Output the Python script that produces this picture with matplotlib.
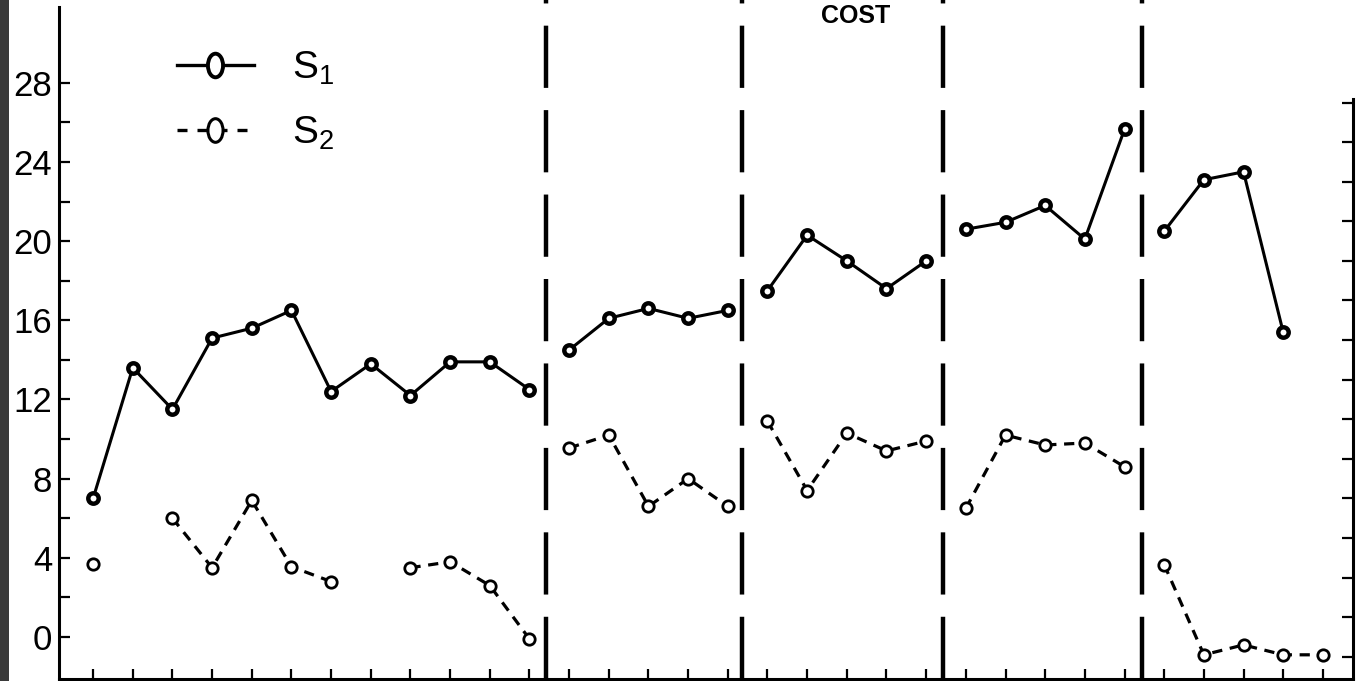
import numpy as np
import matplotlib
matplotlib.use('Agg')
import matplotlib.pyplot as plt
from matplotlib.lines import Line2D
from matplotlib.path import Path
from matplotlib.transforms import Affine2D
from matplotlib.patches import Rectangle

plt.rcParams['font.family'] = ['Liberation Sans', 'DejaVu Sans']

# position of each observation along the bottom axis
x = np.arange(1, 33)
# number of observations in each block (blocks are split by dashed lines)
blocks = [12, 5, 5, 5, 5]
breaks = [12.42, 17.36, 22.43, 27.44]

nan = np.nan
s1 = np.array([7.0, 13.6, 11.5, 15.1, 15.6, 16.5, 12.4, 13.8, 12.2, 13.9, 13.9, 12.5,
               14.5, 16.1, 16.6, 16.1, 16.5,
               17.5, 20.3, 19.0, 17.6, 19.0,
               20.6, 20.95, 21.8, 20.1, 25.65,
               20.5, 23.1, 23.5, 15.4, nan])
s2 = np.array([3.7, nan, 6.0, 3.5, 6.9, 3.55, 2.8, nan, 3.5, 3.8, 2.6, -0.1,
               9.55, 10.2, 6.6, 8.0, 6.6,
               10.9, 7.4, 10.3, 9.4, 9.9,
               6.5, 10.2, 9.7, 9.8, 8.6,
               3.66, -0.9, -0.4, -0.9, -0.9])

yticks = np.arange(0, 29, 2)
ylabels = [str(v) if v % 4 == 0 else '' for v in yticks]
right_ticks = np.arange(-1, 28, 2)

fig = plt.figure(figsize=(13.56, 6.81), dpi=100)
ax = fig.add_axes([0.0435, 0.003, 0.9543, 0.9868])
ax.set_xlim(0.14, 32.76)
ax.set_ylim(-2.12, 31.83)

# dark scan edge on the left
fig.patches.append(Rectangle((0, 0), 9 / 1356, 1, transform=fig.transFigure,
                             facecolor='#3a3a3a', edgecolor='none'))

start = 0
for n in blocks:
    seg = slice(start, start + n)
    ax.plot(x[seg], s1[seg], color='black', lw=2.2, marker='o', ms=7.5,
            mfc='white', mec='black', mew=3.2, zorder=3)
    ax.plot(x[seg], s2[seg], color='black', lw=2.3, dashes=(3.2, 2.4),
            marker='o', ms=8.2, mfc='white', mec='black', mew=2.0, zorder=3)
    start += n

for b in breaks:
    ax.axvline(b, ymin=0, ymax=1.02, color='black', lw=3.2, dashes=(14, 5),
               clip_on=False)

# legend with tall oval markers like the hand drawn key
oval = Path.unit_circle().transformed(Affine2D().scale(0.64, 1.0))
h1 = Line2D([], [], color='black', lw=2.4, marker=oval, ms=17, mfc='white',
            mec='black', mew=2.8)
h2 = Line2D([], [], color='black', lw=2.4, dashes=(3, 3), marker=oval, ms=17,
            mfc='white', mec='black', mew=2.2)
ax.legend([h1, h2], [r'$\mathregular{S_1}$', r'$\mathregular{S_2}$'],
          loc='upper left', bbox_to_anchor=(0.091, 0.937), frameon=False,
          fontsize=28, handlelength=1.98, handletextpad=0.98, labelspacing=0.72,
          borderpad=0, borderaxespad=0)

ax.spines['top'].set_visible(False)
for side in ['left', 'bottom', 'right']:
    ax.spines[side].set_linewidth(2.2)
ax.spines['right'].set_bounds(-2.12, 27.2)

ax.set_xticks(x)
ax.set_xticklabels([])
ax.tick_params(axis='x', direction='in', length=7, width=1.6)
ax.set_yticks(yticks)
ax.set_yticklabels(ylabels)
ax.tick_params(axis='y', direction='in', length=8, width=1.6, labelsize=25, pad=5)

ax2 = ax.twinx()
ax2.set_ylim(ax.get_ylim())
ax2.set_yticks(right_ticks)
ax2.set_yticklabels([])
ax2.tick_params(axis='y', direction='in', length=8, width=1.6)
for side in ['top', 'left', 'bottom', 'right']:
    ax2.spines[side].set_visible(False)

fig.text(856 / 1356, 1 - 4 / 681, 'COST', ha='center', va='top', fontsize=18,
         fontweight='bold')

fig.savefig('out.png', dpi=100)
